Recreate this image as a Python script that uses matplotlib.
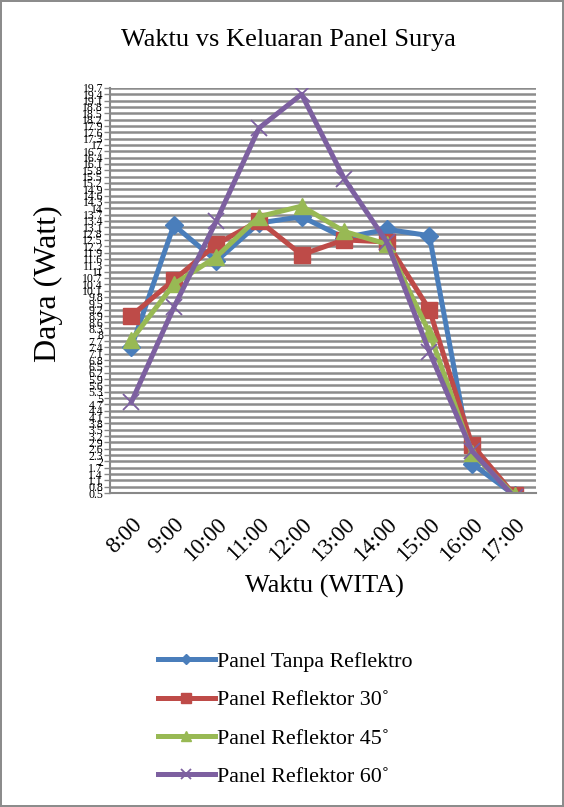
import matplotlib.pyplot as plt
import numpy as np
from matplotlib.transforms import ScaledTranslation

# data
jam = ["8:00", "9:00", "10:00", "11:00", "12:00", "13:00", "14:00", "15:00", "16:00", "17:00"]
tanpa_reflektor = [7.4, 13.2, 11.5, 13.3, 13.6, 12.6, 13.0, 12.7, 1.9, 0.4]
reflektor_30 = [8.9, 10.6, 12.3, 13.4, 11.8, 12.5, 12.4, 9.2, 2.8, 0.4]
reflektor_45 = [7.75, 10.4, 11.7, 13.6, 14.1, 12.9, 12.3, 8.1, 2.4, 0.4]
reflektor_60 = [4.8, 9.3, 13.4, 17.8, 19.4, 15.4, 12.4, 7.2, 2.5, 0.3]

y_ticks = np.round(np.arange(0.5, 19.75, 0.3), 1)
y_tick_labels = [("%g" % v) for v in y_ticks]

plt.rcParams['font.family'] = ['Liberation Serif', 'DejaVu Serif']

fig = plt.figure(figsize=(5.64, 8.07), dpi=100)
fig.patch.set_edgecolor('#8c8c8c')
fig.patch.set_linewidth(1.5)
ax = fig.add_axes([0.195, 0.389, 0.755, 0.502])

x = np.arange(len(jam))
ax.plot(x, tanpa_reflektor, color='#4a7ebb', lw=3.6, marker='D', ms=9,
        label='Panel Tanpa Reflektro')
ax.plot(x, reflektor_30, color='#be4b48', lw=3.6, marker='s', ms=12,
        label='Panel Reflektor 30˚')
ax.plot(x, reflektor_45, color='#98b954', lw=3.6, marker='^', ms=12,
        label='Panel Reflektor 45˚')
ax.plot(x, reflektor_60, color='#7d60a0', lw=3.6, marker='x', ms=12, mew=1.3,
        label='Panel Reflektor 60˚')

ax.set_xlim(-0.5, len(jam) - 0.5)
ax.set_ylim(0.5, 19.7)
ax.set_yticks(y_ticks)
ax.set_yticklabels(y_tick_labels, fontsize=8.5)
ax.set_xticks(x)
ax.set_xticklabels(jam, fontsize=16.5, rotation=45, ha='right', va='top',
                   rotation_mode='anchor')
# nudge the rotated labels left, like the reference
shift = ScaledTranslation(-12 / 72, 0, fig.dpi_scale_trans)
for lbl in ax.get_xticklabels():
    lbl.set_transform(lbl.get_transform() + shift)
ax.tick_params(axis='x', length=0, pad=15)
ax.tick_params(axis='y', length=4, width=1, color='#888888', pad=1)
ax.yaxis.grid(True, color='#8c8c8c', lw=1.8)
ax.set_axisbelow(True)
for side in ['top', 'right']:
    ax.spines[side].set_visible(False)
ax.spines['left'].set_color('#888888')
ax.spines['left'].set_linewidth(1.5)
ax.spines['bottom'].set_color('#888888')
ax.spines['bottom'].set_linewidth(1.5)

fig.text(0.511, 0.950, 'Waktu vs Keluaran Panel Surya', ha='center', va='center', fontsize=19)
fig.text(0.086, 0.649, 'Daya (Watt)', rotation=90, ha='center', va='center', fontsize=23)
fig.text(0.575, 0.273, 'Waktu (WITA)', ha='center', va='center', fontsize=19)

fig.legend(loc='upper left', bbox_to_anchor=(0.245, 0.217), frameon=False,
           fontsize=15.8, handlelength=2.6, labelspacing=0.82, handletextpad=0.1,
           markerscale=0.55)

fig.savefig('out.png', dpi=100)
